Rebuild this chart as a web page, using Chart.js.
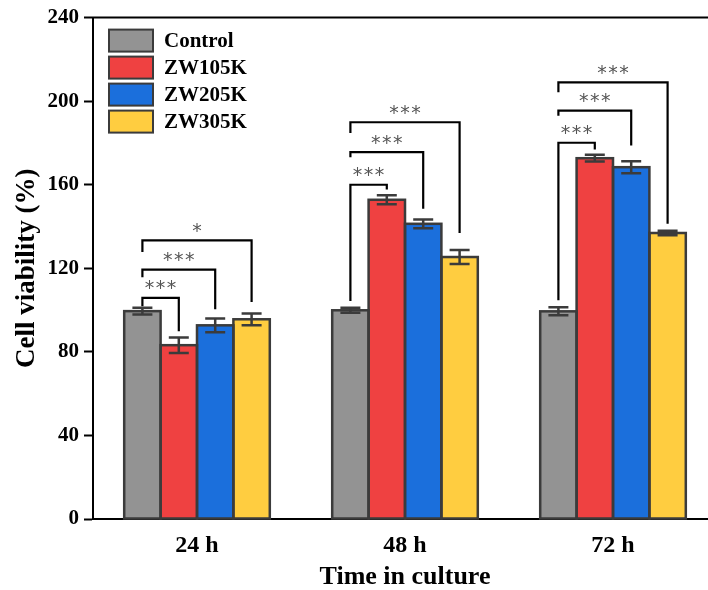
<!DOCTYPE html>
<html>
<head>
<meta charset="utf-8">
<script src="https://cdn.jsdelivr.net/npm/chart.js@4/dist/chart.umd.min.js"></script>
<style>
  body { margin: 0; background: #fff; overflow: hidden; }
  #wrap { width: 708px; height: 590px; overflow: hidden; }
</style>
</head>
<body>
<div id="wrap"><canvas id="myChart" width="740" height="590"></canvas></div>
<script>
const groups = ['24 h', '48 h', '72 h'];
const seriesNames = ['Control', 'ZW105K', 'ZW205K', 'ZW305K'];
const control = [99.5, 99.9, 99.4];
const zw105k = [83.2, 152.8, 172.7];
const zw205k = [92.7, 141.3, 168.4];
const zw305k = [95.6, 125.4, 136.9];
const controlErr = [1.6, 1.2, 1.9];
const zw105kErr = [3.7, 2.2, 1.6];
const zw205kErr = [3.3, 2.1, 2.9];
const zw305kErr = [2.8, 3.3, 1.1];
const yTicks = [0, 40, 80, 120, 160, 200, 240];

// significance brackets, in data units (control vs target)
const sigGroup = [0, 0, 0, 1, 1, 1, 2, 2, 2];
const sigTarget = [1, 2, 3, 1, 2, 3, 1, 2, 3];
const sigTop = [105.8, 119.4, 133.4, 160.0, 175.6, 189.9, 180.1, 195.5, 209.0];
const sigLeftEnd = [101.8, 115.7, 127.8, 104.3, 173.2, 184.8, 104.7, 193.0, 204.3];
const sigRightEnd = [89.9, 100.4, 103.9, 157.7, 148.5, 136.9, 176.9, 178.8, 141.3];
const sigStars = ['***', '***', '*', '***', '***', '***', '***', '***', '***'];

const colors = ['#939393', '#ef4141', '#1b6fdc', '#ffcd40'];
const edge = '#3b3b3b';
const serif = "'Liberation Serif', 'Times New Roman', serif";

const values = [control, zw105k, zw205k, zw305k];
const errors = [controlErr, zw105kErr, zw205kErr, zw305kErr];

const extras = {
  id: 'extras',
  afterDatasetsDraw(chart) {
    const c = chart.ctx;
    const y = chart.scales.y;
    const area = chart.chartArea;
    c.save();
    // bar outlines (drawn as strokes so neighbours share one edge)
    c.strokeStyle = edge;
    c.lineWidth = 2.5;
    values.forEach((vals, i) => {
      chart.getDatasetMeta(i).data.forEach(bar => {
        c.strokeRect(bar.x - bar.width / 2, bar.y, bar.width, bar.base - bar.y);
      });
    });
    // error bars
    values.forEach((vals, i) => {
      const meta = chart.getDatasetMeta(i);
      vals.forEach((v, j) => {
        const x = meta.data[j].x;
        const hi = y.getPixelForValue(v + errors[i][j]);
        const lo = y.getPixelForValue(v - errors[i][j]);
        c.beginPath();
        c.moveTo(x, hi); c.lineTo(x, lo);
        c.moveTo(x - 10, hi); c.lineTo(x + 10, hi);
        c.moveTo(x - 10, lo); c.lineTo(x + 10, lo);
        c.stroke();
      });
    });
    // brackets
    c.strokeStyle = '#000';
    c.lineWidth = 2.2;
    c.font = "19px 'DejaVu Sans', sans-serif";
    const m = c.measureText('*');
    const starShift = (m.actualBoundingBoxAscent - m.actualBoundingBoxDescent) / 2;
    sigGroup.forEach((g, k) => {
      const x1 = chart.getDatasetMeta(0).data[g].x;
      const x2 = chart.getDatasetMeta(sigTarget[k]).data[g].x;
      const top = y.getPixelForValue(sigTop[k]);
      c.beginPath();
      c.moveTo(x1, y.getPixelForValue(sigLeftEnd[k]));
      c.lineTo(x1, top);
      c.lineTo(x2, top);
      c.lineTo(x2, y.getPixelForValue(sigRightEnd[k]));
      c.stroke();
      const stars = sigStars[k];
      c.fillStyle = '#555';
      c.textAlign = 'center';
      c.textBaseline = 'alphabetic';
      const mid = (x1 + x2) / 2;
      for (let s = 0; s < stars.length; s++) {
        c.fillText('*', mid + (s - (stars.length - 1) / 2) * 11, top - 13 + starShift);
      }
    });
    // top frame line
    c.strokeStyle = '#000';
    c.lineWidth = 2;
    c.beginPath();
    c.moveTo(area.left - 1, area.top);
    c.lineTo(area.right, area.top);
    c.stroke();
    // legend
    c.font = 'bold 21px ' + serif;
    c.textAlign = 'left';
    c.textBaseline = 'middle';
    seriesNames.forEach((name, i) => {
      const bx = area.left + 16, by = area.top + 12 + i * 27;
      c.fillStyle = colors[i];
      c.fillRect(bx, by, 44, 22);
      c.strokeStyle = edge;
      c.lineWidth = 2;
      c.strokeRect(bx, by, 44, 22);
      c.fillStyle = '#000';
      c.fillText(name, bx + 55, by + 12);
    });
    c.restore();
  }
};

new Chart(document.getElementById('myChart'), {
  type: 'bar',
  data: {
    labels: groups,
    datasets: values.map((vals, i) => ({
      label: seriesNames[i],
      data: vals,
      backgroundColor: colors[i],
      borderWidth: 0,
      inflateAmount: 0.5
    }))
  },
  options: {
    responsive: false,
    animation: false,
    datasets: { bar: { categoryPercentage: 0.7, barPercentage: 1.0 } },
    layout: { padding: { top: 17, right: 23, left: 0, bottom: 0 } },
    plugins: { legend: { display: false }, tooltip: { enabled: false } },
    scales: {
      x: {
        grid: { display: false },
        border: { display: true, color: '#000', width: 2 },
        ticks: { color: '#000', font: { family: serif, size: 24, weight: 'bold' }, padding: 4 },
        title: { display: true, text: 'Time in culture', color: '#000',
          font: { family: serif, size: 26, weight: 'bold', lineHeight: 1 }, padding: 0 },
        afterFit: (a) => { a.height = 71; }
      },
      y: {
        min: 0, max: 240,
        afterBuildTicks: (a) => { a.ticks = yTicks.map(v => ({ value: v })); },
        grid: { drawOnChartArea: false, drawTicks: true, tickLength: 9, tickColor: '#000', tickWidth: 2 },
        border: { display: true, color: '#000', width: 2 },
        ticks: { color: '#000', font: { family: serif, size: 21, weight: 'bold' }, padding: 5 },
        title: { display: true, text: 'Cell viability (%)', color: '#000',
          font: { family: serif, size: 27, weight: 'bold', lineHeight: 1 }, padding: { top: 14, bottom: 0 } },
        afterFit: (a) => { a.width = 93; }
      }
    }
  },
  plugins: [extras]
});
</script>
</body>
</html>
